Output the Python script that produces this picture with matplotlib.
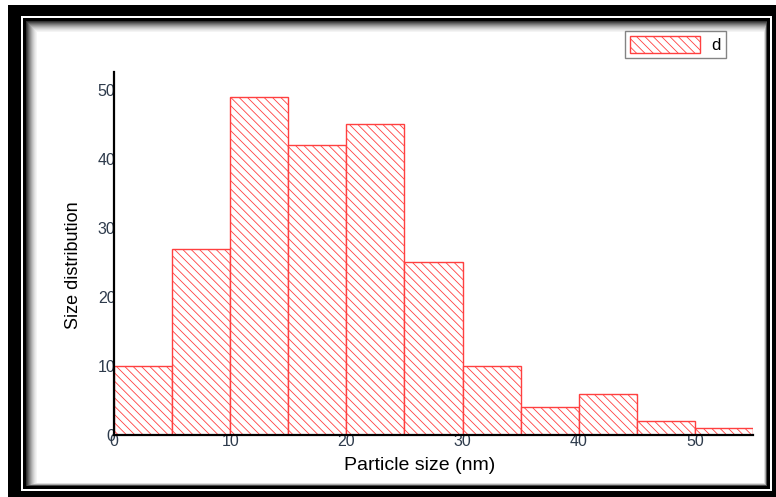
import matplotlib
matplotlib.use("Agg")
import matplotlib.pyplot as plt
from matplotlib.patches import Rectangle, Patch

W, H = 776, 497

bin_edges = [0, 5, 10, 15, 20, 25, 30, 35, 40, 45, 50, 55]
counts = [10, 27, 49, 42, 45, 25, 10, 4, 6, 2, 1]
xticks = [0, 10, 20, 30, 40, 50]
yticks = [0, 10, 20, 30, 40, 50]

plt.rcParams['font.family'] = ['Liberation Sans', 'DejaVu Sans']
plt.rcParams['hatch.color'] = '#ff3b3b'
plt.rcParams['hatch.linewidth'] = 0.6


def box(x0, y0, x1, y1):
    # pixel box (top-left origin) -> figure fraction
    return (x0 / W, 1 - y1 / H), (x1 - x0) / W, (y1 - y0) / H


def frame_rect(x0, y0, x1, y1, color):
    xy, w, h = box(x0, y0, x1, y1)
    fig.add_artist(Rectangle(xy, w, h, transform=fig.transFigure,
                             fc=color, ec='none', zorder=-10))


fig = plt.figure(figsize=(W / 100, H / 100), dpi=100)

# picture frame
frame_rect(8, 5, W + 5, H + 5, 'black')
frame_rect(21, 16, 772, 491, 'white')
frame_rect(23, 18, 770, 489, 'black')
# soft shadow inside the inner line
shades = ['#303030', '#4a4a4a', '#646464', '#7d7d7d', '#959595', '#ababab',
          '#bfbfbf', '#d0d0d0', '#dfdfdf', '#ebebeb', '#f4f4f4', 'white']
for i, c in enumerate(shades):
    frame_rect(26 + i, 21 + i, 767 - i * 0.3, 486 - i * 0.3, c)

ax = fig.add_axes([114 / W, 1 - 435 / H, (753 - 114) / W, (435 - 72) / H])
ax.patch.set_alpha(0)

widths = [bin_edges[i + 1] - bin_edges[i] for i in range(len(counts))]
ax.bar(bin_edges[:-1], counts, width=widths, align='edge', color='white',
       edgecolor='#ff4040', linewidth=1.0, hatch='\\\\\\\\', label='d', zorder=2)

ax.set_xlim(0, 55)
ax.set_ylim(0, 52.6)
ax.set_xticks(xticks)
ax.set_yticks(yticks)
ax.tick_params(length=0, labelsize=11.5, labelcolor='#2e3b4c')
ax.tick_params(axis='x', pad=-1)
ax.tick_params(axis='y', pad=-1)

for s in ['top', 'right']:
    ax.spines[s].set_visible(False)
for s in ['left', 'bottom']:
    ax.spines[s].set_linewidth(1.6)
    ax.spines[s].set_zorder(3)

fig.text(420 / W, 1 - 465 / H, 'Particle size (nm)', ha='center', va='center',
         fontsize=14, color='black')
fig.text(73 / W, 1 - 265 / H, 'Size distribution', ha='center', va='center',
         rotation=90, fontsize=13, color='black',
         family=['Liberation Sans Narrow', 'Liberation Sans'])

handle = Patch(facecolor='white', edgecolor='#ff4040', hatch='\\\\\\\\', linewidth=1.0)
leg = fig.legend([handle], ['d'], loc='upper right',
                 bbox_to_anchor=(726 / W, 1 - 31 / H), fontsize=12,
                 frameon=True, fancybox=False, handlelength=4.2, handleheight=1.2,
                 borderpad=0.3, handletextpad=0.7, borderaxespad=0)
leg.get_frame().set_edgecolor('#666666')
leg.get_frame().set_linewidth(1.0)

fig.savefig('out.png', dpi=100)
